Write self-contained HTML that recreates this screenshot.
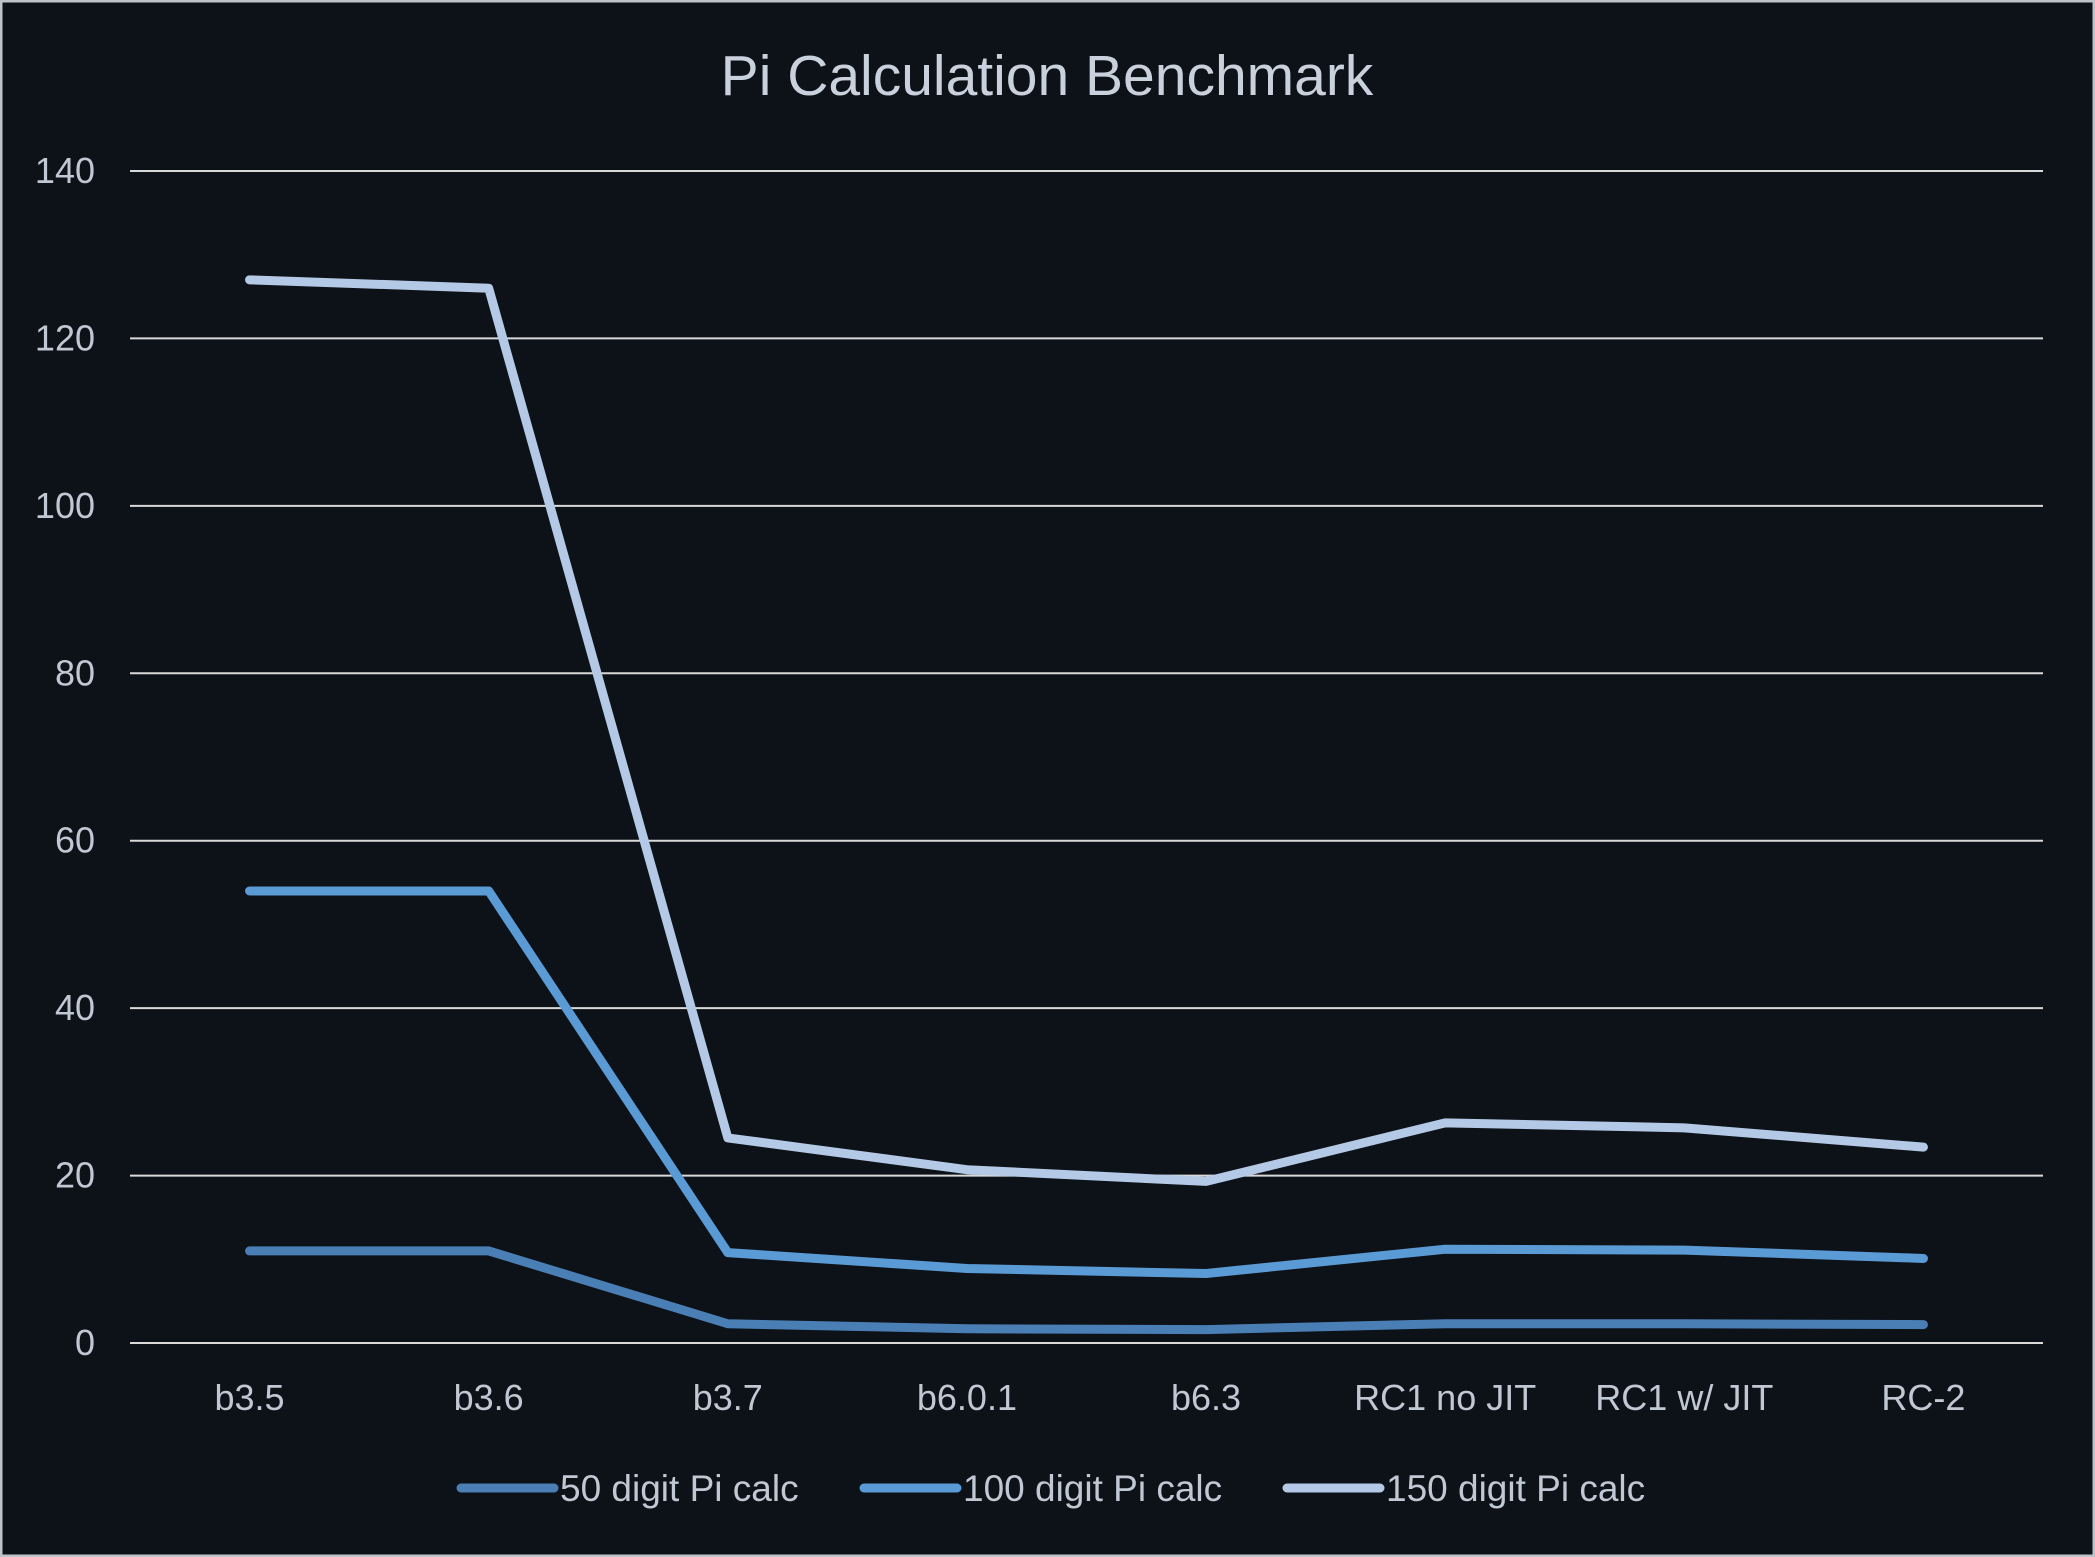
<!DOCTYPE html>
<html><head><meta charset="utf-8"><style>
html,body{margin:0;padding:0;background:#0d1118;}
svg{display:block;font-family:"Liberation Sans","DejaVu Sans",sans-serif;}
</style></head><body>
<svg id="chart" width="2095" height="1557" viewBox="0 0 2095 1557" xmlns="http://www.w3.org/2000/svg">
<rect x="1" y="1" width="2093" height="1555" fill="#0d1118" stroke="#bfc3c8" stroke-width="3"/>
<text x="1047" y="95" text-anchor="middle" font-size="57" fill="#c9d1dc">Pi Calculation Benchmark</text>
<g id="grid"></g><g id="yticks"></g><g id="xticks"></g><g id="series"></g><g id="legend"></g>
</svg>
<script>
const categories=["b3.5","b3.6","b3.7","b6.0.1","b6.3","RC1 no JIT","RC1 w/ JIT","RC-2"];
const s50=[11,11,2.3,1.7,1.6,2.3,2.3,2.2];
const s100=[54,54,10.8,8.9,8.3,11.2,11.1,10.1];
const s150=[127,126,24.5,20.7,19.3,26.3,25.7,23.4];
const seriesNames=["50 digit Pi calc","100 digit Pi calc","150 digit Pi calc"];
const yTicks=[0,20,40,60,80,100,120,140];
const NS="http://www.w3.org/2000/svg";
const x0=130,x1=2043,yTop=171,yBot=1343,yMax=140;
const step=(x1-x0)/categories.length;
const xs=i=>x0+step*(i+0.5);
const ys=v=>yBot-(v/yMax)*(yBot-yTop);
function mk(tag,attrs,parent){const e=document.createElementNS(NS,tag);for(const k in attrs)e.setAttribute(k,attrs[k]);document.getElementById(parent).appendChild(e);return e;}
yTicks.forEach(t=>{
 const l=mk('line',{x1:x0,x2:x1,y1:ys(t),y2:ys(t),stroke:'#d9d9d9','stroke-width':2},'grid');
 
 
 const tx=mk('text',{x:95,y:ys(t)+12,'text-anchor':'end','font-size':36,fill:'#c0c8d4'},'yticks');
 tx.textContent=t;
 
 
});
categories.forEach((c,i)=>{
 const tx=mk('text',{x:xs(i),y:1410,'text-anchor':'middle','font-size':36,fill:'#c0c8d4'},'xticks');
 tx.textContent=c;
 
 
});
const colors=['#4a7fb5','#5b9bd5','#b4c9e6'];
[s50,s100,s150].forEach((s,k)=>{
 const p=mk('polyline',{points:s.map((v,i)=>xs(i)+','+ys(v)).join(' '),fill:'none',stroke:colors[k],'stroke-width':9,'stroke-linejoin':'round','stroke-linecap':'round'},'series');
 
 
});
const legX=[461,864,1287];
seriesNames.forEach((n,k)=>{
 const l=mk('line',{x1:legX[k],x2:legX[k]+93,y1:1488,y2:1488,stroke:colors[k],'stroke-width':9,'stroke-linecap':'round'},'legend');
 
 
 const t=mk('text',{x:legX[k]+99,y:1501,'font-size':37,fill:'#c0c8d4'},'legend');
 t.textContent=n;
 
 
});
</script>
</body></html>
